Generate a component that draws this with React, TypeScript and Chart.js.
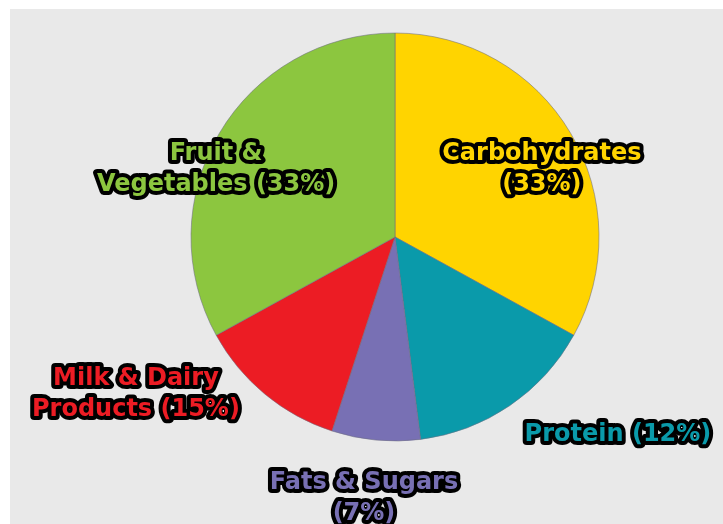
import React, { useEffect, useRef } from "react";
import { Chart, registerables } from "chart.js";

Chart.register(...registerables);

const categories = ["Carbohydrates", "Protein", "Fats & Sugars", "Milk & Dairy Products", "Fruit & Vegetables"];
const values = [33, 15, 7, 12, 33];
const labelLines = [
  ["Carbohydrates", "(33%)"],
  ["Protein (12%)"],
  ["Fats & Sugars", "(7%)"],
  ["Milk & Dairy", "Products (15%)"],
  ["Fruit &", "Vegetables (33%)"],
];
// label anchor relative to pie centre, in units of the pie radius
const labelAnchors = [
  [0.72, -0.33],
  [1.093, 0.97],
  [-0.152, 1.28],
  [-1.27, 0.77],
  [-0.877, -0.33],
];
const colors = ["#FFD400", "#0A9AAA", "#7870B4", "#EC1C24", "#8CC63F"];

const labelPlugin = {
  id: "outlinedLabels",
  afterDatasetsDraw(chart: any) {
    const ctx = chart.ctx;
    const meta = chart.getDatasetMeta(0);
    const arc0 = meta.data[0];
    if (!arc0) return;
    const cx = arc0.x;
    const cy = arc0.y;
    const r = arc0.outerRadius;
    ctx.save();
    ctx.font = "bold 24px 'DejaVu Sans'";
    ctx.textAlign = "center";
    ctx.textBaseline = "middle";
    ctx.lineJoin = "round";
    const lh = 31;
    labelLines.forEach((lines, i) => {
      const [ax, ay] = labelAnchors[i];
      const x = cx + ax * r;
      const y0 = cy + ay * r - ((lines.length - 1) * lh) / 2;
      lines.forEach((t, j) => {
        const y = y0 + j * lh;
        ctx.lineWidth = 8;
        ctx.strokeStyle = "#000";
        ctx.strokeText(t, x, y);
        ctx.fillStyle = colors[i];
        ctx.fillText(t, x, y);
      });
    });
    ctx.restore();
  },
};

export default function App() {
  const ref = useRef<HTMLCanvasElement>(null);
  useEffect(() => {
    if (!ref.current) return;
    const chart = new Chart(ref.current, {
      type: "pie",
      data: {
        labels: categories,
        datasets: [
          {
            data: values,
            backgroundColor: colors,
            borderColor: "rgba(110,110,130,0.55)",
            borderWidth: 1,
          },
        ],
      },
      options: {
        animation: false,
        responsive: false,
        radius: 204,
        layout: { padding: { left: 57, right: 0, top: 0, bottom: 59 } },
        plugins: { legend: { display: false }, tooltip: { enabled: false } },
      },
      plugins: [labelPlugin],
    });
    return () => chart.destroy();
  }, []);
  return (
    <div style={{ position: "absolute", left: 10, top: 9, width: 713, height: 515, background: "#E9E9E9" }}>
      <canvas ref={ref} width={713} height={515} style={{ display: "block" }} />
    </div>
  );
}
